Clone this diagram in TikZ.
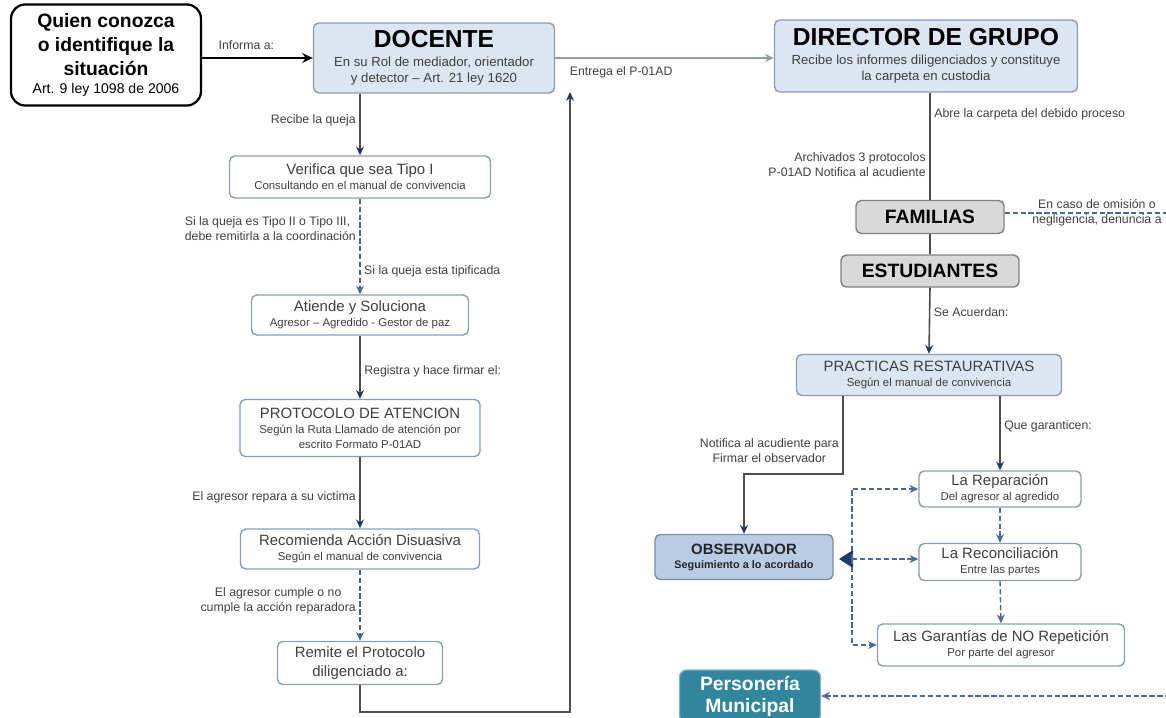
\documentclass[tikz,border=0pt]{standalone}
\usepackage{fontspec}
\setmainfont{Liberation Sans}
\usetikzlibrary{positioning, arrows.meta}

\definecolor{boxblue}{HTML}{DCE6F2}
\definecolor{boxline}{HTML}{8A9DB5}
\definecolor{obsblue}{HTML}{B8CCE4}
\definecolor{famgray}{HTML}{D9D9D9}
\definecolor{persteal}{HTML}{31859C}
\definecolor{txtgray}{HTML}{3F3F3F}
\definecolor{linegray}{HTML}{4D4D4D}
\definecolor{arrowblue}{HTML}{1F3864}
\definecolor{dashblue}{HTML}{4A6A94}

\newcommand{\bigttl}{\fontsize{14}{16}\selectfont\bfseries\color{black}}
\newcommand{\boxttl}{\fontsize{8.5}{10}\selectfont}
\newcommand{\boxsub}{\fontsize{6.5}{8.5}\selectfont}
\newcommand{\dsub}{\fontsize{7.5}{9}\selectfont}

\begin{document}
\begin{tikzpicture}[x=0.02cm, y=-0.02cm,
		wbox/.style={draw=boxline, fill=white, rounded corners=3pt, line width=0.8pt, inner sep=1pt, align=flush center, text=txtgray},
		bbox/.style={wbox, fill=boxblue},
		gbox/.style={wbox, fill=famgray, draw=gray, text=black, font=\fontsize{11}{13}\selectfont\bfseries},
		lbl/.style={font=\fontsize{7}{8.5}\selectfont, text=txtgray, align=center, inner sep=2pt},
		conn/.style={draw=linegray, line width=0.9pt, -{Stealth[length=5pt, width=4.5pt, color=arrowblue]}},
		vline/.style={draw=linegray, line width=0.9pt},
		dconn/.style={draw=dashblue, line width=0.8pt, dash pattern=on 3pt off 1.5pt, -{Stealth[length=5pt, width=4.5pt, color=dashblue]}}]

		\useasboundingbox (0,0) rectangle (1166,717);

		% --- top row ---
		\node[wbox, draw=black, line width=1.3pt, rounded corners=8pt, text=black, minimum width=3.8cm, minimum height=2.02cm, text width=3.7cm] (quien) at (106,55) {{\fontsize{11}{13.5}\selectfont\bfseries Quien conozca\\ o identifique la\\ situación\par}\fontsize{8}{10.5}\selectfont Art. 9 ley 1098 de 2006\par};
		\node[bbox, minimum width=4.82cm, minimum height=1.4cm, text width=4.7cm] (docente) at (434,58) {{\bigttl DOCENTE\par}\vspace{2pt}\dsub En su Rol de mediador, orientador\\ y detector -- Art. 21 ley 1620\par};
		\node[bbox, minimum width=6.06cm, minimum height=1.44cm, text width=5.96cm] (director) at (926,56) {{\bigttl DIRECTOR DE GRUPO\par}\vspace{2pt}\dsub Recibe los informes diligenciados y constituye\\ la carpeta en custodia\par};

		% --- left column ---
		\node[wbox, minimum width=5.22cm, minimum height=0.84cm, text width=5.1cm] (verifica) at (360,177) {{\boxttl Verifica que sea Tipo I\par}\boxsub Consultando en el manual de convivencia\par};
		\node[wbox, minimum width=4.34cm, minimum height=0.8cm, text width=4.24cm] (atiende) at (360,315) {{\boxttl Atiende y Soluciona\par}\boxsub Agresor -- Agredido - Gestor de paz\par};
		\node[wbox, minimum width=4.8cm, minimum height=1.14cm, text width=4.7cm] (protocolo) at (360,428) {{\boxttl PROTOCOLO DE ATENCION\par}\boxsub Según la Ruta Llamado de atención por\\ escrito Formato P-01AD\par};
		\node[wbox, minimum width=4.78cm, minimum height=0.8cm, text width=4.68cm] (recomienda) at (360,549) {{\boxttl Recomienda Acción Disuasiva\par}\boxsub Según el manual de convivencia\par};
		\node[wbox, minimum width=3.3cm, minimum height=0.86cm, text width=3.2cm] (remite) at (360,663) {\fontsize{8.5}{11}\selectfont Remite el Protocolo\\ diligenciado a:\par};

		% --- right column ---
		\node[gbox, minimum width=2.96cm, minimum height=0.66cm] (familias) at (930,217) {FAMILIAS};
		\node[gbox, minimum width=3.56cm, minimum height=0.64cm] (estudiantes) at (930,271) {ESTUDIANTES};
		\node[bbox, minimum width=5.3cm, minimum height=0.82cm, text width=5.2cm] (practicas) at (929,375) {{\boxttl PRACTICAS RESTAURATIVAS\par}\boxsub Según el manual de convivencia\par};
		\node[wbox, minimum width=3.24cm, minimum height=0.72cm, text width=3.14cm] (reparacion) at (1000,489) {{\boxttl La Reparación\par}\boxsub Del agresor al agredido\par};
		\node[wbox, minimum width=3.24cm, minimum height=0.74cm, text width=3.14cm] (reconciliacion) at (1000,562) {{\boxttl La Reconciliación\par}\boxsub Entre las partes\par};
		\node[wbox, minimum width=4.94cm, minimum height=0.84cm, text width=4.84cm] (garantias) at (1001,645) {{\boxttl Las Garantías de NO Repetición\par}\boxsub Por parte del agresor\par};
		\node[wbox, fill=obsblue, draw=boxline!90!black, minimum width=3.56cm, minimum height=0.9cm, text width=3.46cm, text=black!85] (observador) at (744,557) {{\fontsize{8.5}{10}\selectfont\bfseries OBSERVADOR\par}\fontsize{6.2}{8}\selectfont\bfseries Seguimiento a lo acordado\par};
		\node[wbox, fill=persteal, draw=persteal!60, rounded corners=4pt, minimum width=2.82cm, minimum height=1.04cm, text width=2.72cm, text=white] (personeria) at (750,696) {\fontsize{11}{12.5}\selectfont\bfseries Personería\\ Municipal\par};

		% --- top connectors ---
		\draw[line width=1.3pt, -{Stealth[length=6pt, width=5.5pt]}] (quien.east |- docente.west) -- node[lbl, above=2pt, pos=0.4] (lInforma) {Informa a:} (docente.west);
		\draw[draw=boxline, line width=0.9pt, -{Stealth[length=5pt, width=4.5pt, color=boxline]}] (docente.east) -- (docente.east -| director.west);
		\node[lbl, anchor=west] (lEntrega) at (566,72) {Entrega el P-01AD};
		\coordinate (retTop) at (570,92);
		\draw[conn] (remite.south) -- ++(0,27) -| (retTop);

		% --- left column connectors ---
		\draw[conn] (docente.south -| verifica.north) -- node[lbl, left, pos=0.43] (lRecibe) {Recibe la queja} (verifica.north);
		\draw[dconn, draw=arrowblue!80] (verifica.south) -- node[lbl, left, pos=0.31, align=left] (lTipo) {Si la queja es Tipo II o Tipo III,\\debe remitirla a la coordinación} node[lbl, right, pos=0.76] (lTipif) {Si la queja esta tipificada} (atiende.north);
		\draw[conn] (atiende.south) -- node[lbl, right, pos=0.57] (lRegistra) {Registra y hace firmar el:} (protocolo.north);
		\draw[conn] (protocolo.south) -- node[lbl, left, pos=0.56] (lRepara) {El agresor repara a su victima} (recomienda.north);
		\draw[dconn, draw=arrowblue!80] (recomienda.south) -- node[lbl, left, pos=0.44] (lCumple) {El agresor cumple o no\\cumple la acción reparadora} (remite.north);

		% --- right column connectors ---
		\draw[vline] (director.south -| familias.north) -- node[lbl, right, pos=0.2] (lAbre) {Abre la carpeta del debido proceso} node[lbl, left, pos=0.67, align=right] (lArch) {Archivados 3 protocolos\\P-01AD Notifica al acudiente} (familias.north);
		\draw[vline] (familias.south) -- (estudiantes.north);
		\draw[conn] (estudiantes.south) -- node[lbl, right, pos=0.37] (lAcuerdan) {Se Acuerdan:} (practicas.north);
		\coordinate (obsTurn) at (843,474);
		\draw[conn] (practicas.south -| obsTurn) -- node[lbl, left, pos=0.7] (lNotifica) {Notifica al acudiente para\\Firmar el observador} (obsTurn) -| (observador.north);
		\draw[conn] (practicas.south -| reparacion.north) -- node[lbl, right, pos=0.4] (lGarant) {Que garanticen:} (reparacion.north);
		\draw[dconn] (reparacion.south) -- (reconciliacion.north);
		\draw[dconn] (reconciliacion.south) -- (garantias.north);

		% --- seguimiento bus ---
		\coordinate (bus) at (852,559);
		\draw[dconn, -{Triangle[length=8pt, width=10pt, color=arrowblue]}, shorten >=3pt] (bus) -- (bus -| observador.east);
		\draw[dconn] (bus) |- (reparacion.west);
		\draw[dconn] (bus) -- (bus -| reconciliacion.west);
		\draw[dconn] (bus) |- (garantias.west);

		% --- denuncia ---
		\coordinate (famEdge) at (1190,213);
		\draw[dconn] (familias.east |- famEdge) -- (famEdge) -- (famEdge |- personeria.east) -- (personeria.east);
		\node[lbl] (lOmision) at (1097,213) {En caso de omisión o\\negligencia, denuncia a};
\end{tikzpicture}
\end{document}
